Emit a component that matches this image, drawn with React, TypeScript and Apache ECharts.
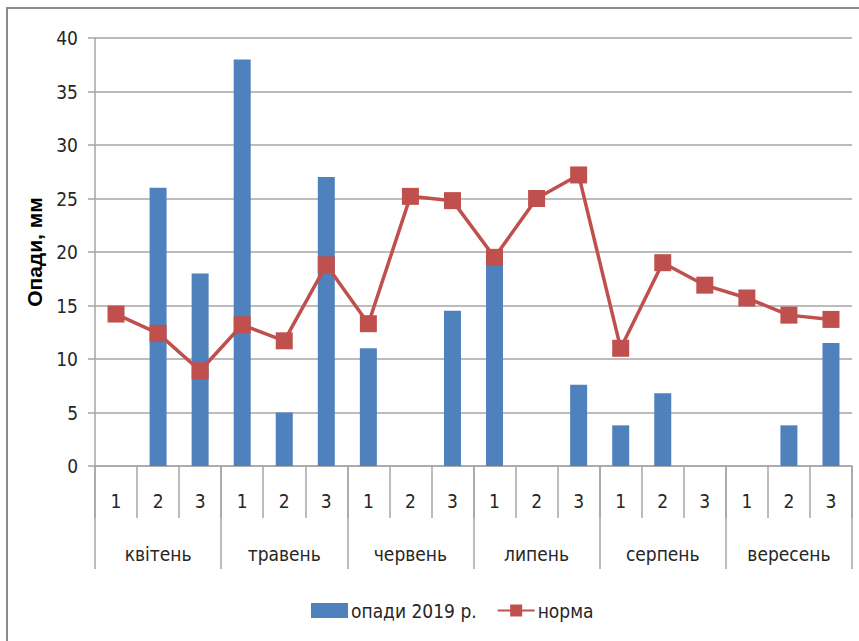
import React, { useEffect, useRef } from "react";
import * as echarts from "echarts";

const days = ["1", "2", "3", "1", "2", "3", "1", "2", "3", "1", "2", "3", "1", "2", "3", "1", "2", "3"];
const months = ["квітень", "травень", "червень", "липень", "серпень", "вересень"];
const precip2019 = [0, 26, 18, 38, 5, 27, 11, 0, 14.5, 20, 0, 7.6, 3.8, 6.8, 0, 0, 3.8, 11.5];
const norm = [14.2, 12.4, 8.9, 13.2, 11.7, 18.8, 13.3, 25.2, 24.8, 19.5, 25.0, 27.2, 11.0, 19.0, 16.9, 15.7, 14.1, 13.7];
const yTicks = { min: 0, max: 40, interval: 5 };

const FONT = "'Liberation Sans Narrow', 'DejaVu Sans Condensed', 'Liberation Sans', sans-serif";
const GRID_GRAY = "#A6A6A6";
const TEXT = "#262626";

export default function App() {
  const ref = useRef<HTMLDivElement>(null);
  useEffect(() => {
    if (!ref.current) return;
    const chart = echarts.init(ref.current, undefined, { renderer: "svg" });
    chart.setOption({
      animation: false,
      backgroundColor: "#ffffff",
      textStyle: { fontFamily: FONT },
      graphic: [
        {
          type: "rect",
          shape: { x: 7, y: 8, width: 900, height: 700 },
          style: { fill: "none", stroke: "#8C8C8C", lineWidth: 2 },
          silent: true,
        },
      ],
      grid: { left: 95, right: 7, top: 38, bottom: 175, containLabel: false },
      legend: {
        left: 306,
        top: 596,
        itemGap: 20,
        itemWidth: 37,
        itemHeight: 15,
        textStyle: { fontFamily: FONT, fontSize: 19, color: TEXT, padding: [0, 0, 0, -2] },
        data: [
          { name: "опади 2019 р.", icon: "rect" },
          { name: "норма" },
        ],
      },
      xAxis: [
        {
          type: "category",
          data: days,
          position: "bottom",
          axisLine: { show: true, lineStyle: { color: GRID_GRAY, width: 1.5 } },
          axisTick: { show: true, interval: 0, length: 52, lineStyle: { color: GRID_GRAY, width: 1.5 } },
          axisLabel: { interval: 0, margin: 25, fontSize: 19, color: TEXT, fontFamily: FONT },
        },
        {
          type: "category",
          data: months,
          position: "bottom",
          axisLine: { show: false },
          axisTick: { show: true, interval: 0, length: 103, lineStyle: { color: GRID_GRAY, width: 1.5 } },
          axisLabel: { interval: 0, margin: 78, fontSize: 19, color: TEXT, fontFamily: FONT },
        },
      ],
      yAxis: {
        type: "value",
        min: yTicks.min,
        max: yTicks.max,
        interval: yTicks.interval,
        name: "Опади, мм",
        nameLocation: "middle",
        nameRotate: 90,
        nameGap: 50,
        nameTextStyle: { fontFamily: "'Liberation Sans', sans-serif", fontWeight: "bold", fontSize: 21, color: "#000" },
        axisLine: { show: true, lineStyle: { color: GRID_GRAY, width: 1.5 } },
        axisTick: { show: true, length: 7, lineStyle: { color: GRID_GRAY, width: 1.5 } },
        axisLabel: { margin: 17, fontSize: 19, color: TEXT, fontFamily: FONT },
        splitLine: { show: true, lineStyle: { color: GRID_GRAY, width: 1.5 } },
      },
      series: [
        {
          name: "опади 2019 р.",
          type: "bar",
          xAxisIndex: 0,
          data: precip2019,
          barWidth: 17,
          itemStyle: { color: "#4F81BD" },
          z: 2,
        },
        {
          name: "норма",
          type: "line",
          xAxisIndex: 0,
          data: norm,
          symbol: "rect",
          symbolSize: 17,
          lineStyle: { color: "#C0504D", width: 3.5 },
          itemStyle: { color: "#C0504D" },
          z: 3,
        },
      ],
    });
    return () => chart.dispose();
  }, []);
  return (
    <div
      ref={ref}
      style={{ position: "absolute", left: 0, top: 0, width: 859, height: 641 }}
    />
  );
}
